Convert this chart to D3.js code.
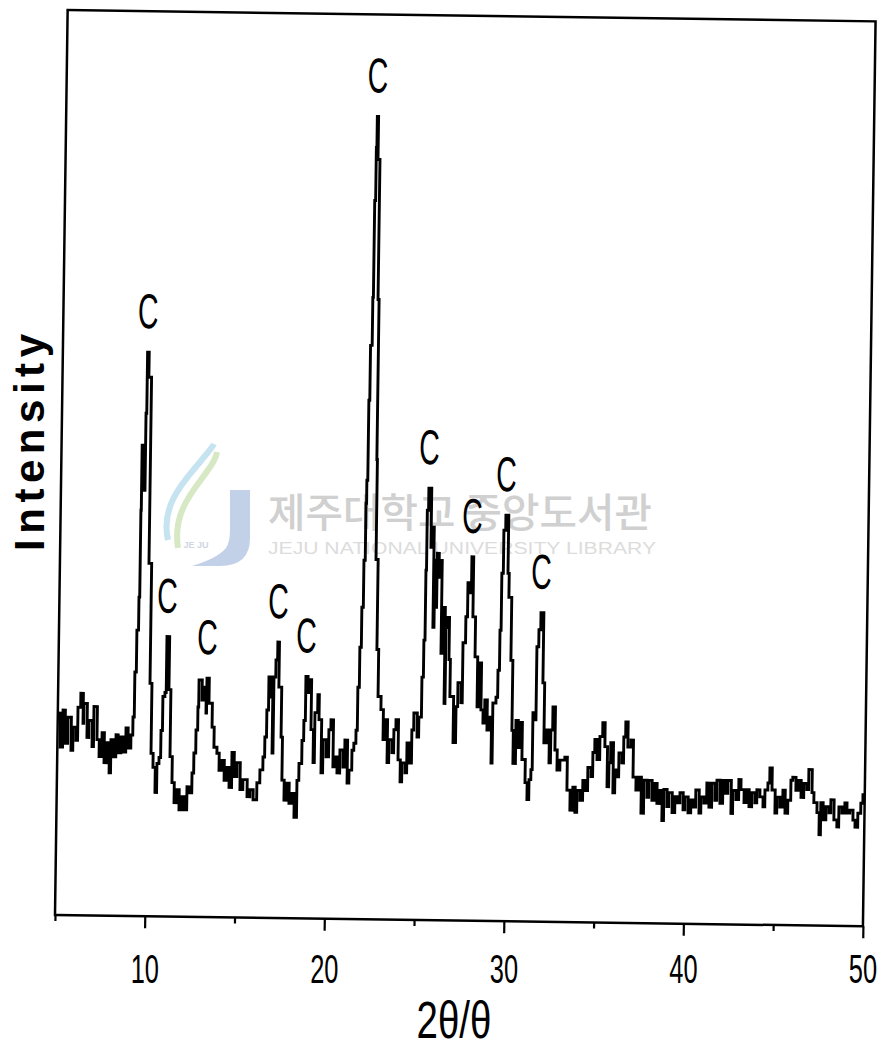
<!DOCTYPE html>
<html>
<head>
<meta charset="utf-8">
<script src="https://cdn.jsdelivr.net/npm/d3@7"></script>
<style>
body { margin: 0; background: #fff; }
</style>
</head>
<body>
<div id="chart"></div>
<script>
// diffraction angle (deg) and intensity (a.u.)
var twoTheta = [
  5.01,5.15,5.29,5.42,5.57,5.76,5.86,6.03,6.12,6.27,
  6.41,6.45,6.64,6.74,6.93,7.01,7.20,7.33,7.48,7.61,
  7.76,7.90,7.98,8.11,8.26,8.38,8.54,8.66,8.81,8.93,
  9.09,9.19,9.26,9.34,9.43,9.47,9.49,9.62,9.68,9.72,
  9.81,9.96,10.11,10.22,10.34,10.47,10.56,10.67,10.76,10.84,
  10.95,11.02,11.17,11.28,11.41,11.54,11.70,11.82,11.98,12.10,
  12.25,12.37,12.52,12.61,12.71,12.80,12.84,13.02,13.12,13.25,
  13.28,13.41,13.60,13.72,13.89,14.02,14.18,14.31,14.46,14.59,
  14.73,14.86,15.02,15.20,15.36,15.60,15.76,15.94,16.14,16.30,
  16.46,16.55,16.64,16.73,16.86,16.96,17.01,17.11,17.20,17.29,
  17.45,17.53,17.66,17.82,17.94,18.10,18.23,18.37,18.47,18.62,
  18.71,18.79,18.91,18.96,19.11,19.25,19.32,19.47,19.55,19.70,
  19.79,19.97,20.11,20.22,20.36,20.47,20.59,20.74,20.92,21.01,
  21.16,21.26,21.41,21.51,21.62,21.69,21.77,21.85,21.93,22.00,
  22.03,22.08,22.13,22.22,22.25,22.30,22.33,22.40,22.51,22.57,
  22.60,22.72,22.82,22.99,23.13,23.22,23.37,23.46,23.64,23.73,
  23.84,23.98,24.11,24.20,24.38,24.47,24.59,24.73,24.83,25.02,
  25.11,25.25,25.33,25.39,25.42,25.49,25.65,25.69,25.82,25.88,
  25.97,26.01,26.12,26.16,26.29,26.36,26.50,26.55,26.60,26.74,
  26.82,27.03,27.17,27.26,27.44,27.51,27.65,27.74,27.86,27.94,
  28.04,28.19,28.34,28.41,28.56,28.68,28.77,28.91,29.01,29.16,
  29.22,29.39,29.48,29.56,29.62,29.70,29.80,29.96,30.03,30.19,
  30.30,30.38,30.52,30.65,30.74,30.88,31.07,31.19,31.29,31.39,
  31.46,31.57,31.63,31.73,31.83,31.99,32.09,32.25,32.39,32.47,
  32.57,32.71,32.84,33.00,33.27,33.41,33.59,33.74,33.87,33.97,
  34.14,34.29,34.41,34.56,34.74,34.83,34.93,35.06,35.21,35.36,
  35.49,35.64,35.73,35.82,35.97,36.07,36.18,36.28,36.45,36.54,
  36.64,36.77,36.94,37.08,37.25,37.41,37.55,37.69,37.87,37.97,
  38.15,38.31,38.43,38.59,38.72,38.81,38.99,39.09,39.28,39.43,
  39.55,39.71,39.89,39.99,40.17,40.32,40.44,40.59,40.78,40.88,
  41.05,41.20,41.33,41.48,41.66,41.76,41.94,42.09,42.21,42.37,
  42.56,42.65,42.83,42.98,43.10,43.28,43.43,43.56,43.71,43.89,
  43.99,44.16,44.34,44.44,44.60,44.70,44.83,45.01,45.11,45.28,
  45.44,45.57,45.72,45.88,45.98,46.16,46.32,46.45,46.60,46.77,
  46.87,47.06,47.17,47.35,47.48,47.56,47.69,47.85,48.02,48.12,
  48.30,48.47,48.57,48.74,48.90,49.02,49.18,49.36,49.48,49.63,49.79,49.90
];
var intensity = [
  202,168,205,172,198,165,188,175,208,222,
  192,212,178,195,169,209,176,159,183,153,
  173,143,176,159,181,163,179,164,188,168,
  181,199,244,286,319,406,471,426,503,564,
  539,353,233,163,149,124,153,159,186,220,
  224,280,227,160,134,114,127,107,120,107,
  130,124,144,164,187,210,237,217,230,204,
  239,214,190,170,164,147,157,137,150,130,
  165,141,155,128,138,121,128,118,135,148,
  161,181,208,241,221,165,241,258,276,231,
  181,138,118,135,115,125,101,138,155,178,
  198,242,226,239,189,156,206,224,199,146,
  179,162,189,199,152,162,146,169,152,179,
  136,149,169,176,189,232,272,312,359,416,
  439,519,574,622,719,772,803,760,620,460,
  360,270,223,210,180,200,157,180,167,190,
  200,160,138,157,147,177,157,190,207,183,
  203,243,280,350,410,432,373,393,293,360,
  313,367,343,360,267,313,217,293,303,261,
  224,178,214,238,218,278,304,338,328,364,
  304,264,214,258,211,198,221,191,204,158,
  218,224,251,291,348,391,406,348,324,261,
  191,158,201,174,199,162,139,122,142,152,
  209,202,275,292,309,239,179,192,159,192,
  215,172,152,162,165,132,112,135,110,132,
  122,142,132,155,146,170,183,163,186,200,
  176,136,160,180,130,153,146,170,160,186,
  201,176,183,146,133,146,110,143,126,143,
  123,140,120,133,103,134,117,131,111,127,
  121,131,114,127,111,124,117,134,111,127,
  121,141,117,141,124,144,121,144,131,144,
  111,134,125,145,135,122,135,118,132,122,
  135,128,118,135,142,157,135,112,128,118,
  135,112,125,145,148,135,145,128,142,136,
  156,133,123,113,91,123,106,119,113,126,
  106,99,119,113,123,113,116,106,99,113,123,133
];

// peaks marked "C" in the original
var peakAngles = [9.72, 11.02, 13.28, 17.20, 18.79, 22.33, 25.49, 27.94, 29.80, 31.83];
var peakLabel = "C";

var majorTicks = [10, 20, 30, 40, 50];
var minorTicks = [5, 15, 25, 35, 45];
var xTitle = "2θ/θ";
var yTitle = "Intensity";

var width = 886;
var height = 1048;
var plotLeft = 55, plotRight = 863, plotTop = 10, plotBottom = 915;
var tilt = 0.8; // scanned page sits slightly askew

var svg = d3.select("#chart").append("svg")
    .attr("width", width)
    .attr("height", height);

var xScale = d3.scaleLinear()
    .domain([5, 50])
    .range([plotLeft, plotRight]);

var yScale = d3.scaleLinear()
    .domain([0, 905])
    .range([plotBottom, plotTop]);

// library watermark, behind everything
var wm = svg.append("g").attr("opacity", 0.9);
wm.append("path")
    .attr("d", "M168,540 C160,505 185,480 200,462 C208,452 212,448 214,444")
    .attr("fill", "none").attr("stroke", "#bfe0ef").attr("stroke-width", 6);
wm.append("path")
    .attr("d", "M178,548 C172,510 196,488 208,470 C214,462 216,458 217,452")
    .attr("fill", "none").attr("stroke", "#d3e6be").attr("stroke-width", 6);
wm.append("path")
    .attr("d", "M230,490 L250,490 L250,538 Q250,566 220,566 L192,566 Q218,558 226,548 Q230,542 230,530 Z")
    .attr("fill", "#bccde6");
wm.append("text")
    .attr("x", 196).attr("y", 548)
    .attr("text-anchor", "middle")
    .style("font-family", "Liberation Sans, sans-serif")
    .style("font-size", "9px")
    .style("font-weight", "bold")
    .attr("fill", "#c9d3df")
    .text("JE JU");
wm.append("text")
    .attr("x", 268).attr("y", 527)
    .attr("textLength", 384)
    .attr("lengthAdjust", "spacingAndGlyphs")
    .style("font-family", "Noto Sans CJK KR, sans-serif")
    .style("font-size", "40px")
    .style("font-weight", "500")
    .attr("fill", "#cbcbcb")
    .text("제주대학교 중앙도서관");
wm.append("text")
    .attr("x", 268).attr("y", 554)
    .attr("textLength", 388)
    .attr("lengthAdjust", "spacingAndGlyphs")
    .style("font-family", "Liberation Sans, sans-serif")
    .style("font-size", "16px")
    .attr("fill", "#d9d9d9")
    .text("JEJU NATIONAL UNIVERSITY LIBRARY");

var plot = svg.append("g")
    .attr("transform", "rotate(" + tilt + "," + plotLeft + "," + plotBottom + ")");

plot.append("rect")
    .attr("x", plotLeft)
    .attr("y", plotTop)
    .attr("width", plotRight - plotLeft)
    .attr("height", plotBottom - plotTop)
    .attr("fill", "none")
    .attr("stroke", "#000")
    .attr("stroke-width", 2.5);

var majorAxis = plot.append("g")
    .attr("transform", "translate(0," + plotBottom + ")")
    .call(d3.axisBottom(xScale).tickValues(majorTicks).tickSize(12).tickFormat(""));
var minorAxis = plot.append("g")
    .attr("transform", "translate(0," + plotBottom + ")")
    .call(d3.axisBottom(xScale).tickValues(minorTicks).tickSize(6).tickFormat(""));
[majorAxis, minorAxis].forEach(function(a){
    a.select(".domain").remove();
    a.selectAll("line").attr("stroke", "#000").attr("stroke-width", 2.2);
});

var points = twoTheta.map(function(t, i){ return [t, intensity[i]]; });

var line = d3.line()
    .x(function(d){ return xScale(d[0]); })
    .y(function(d){ return yScale(d[1]); })
    .curve(d3.curveStepAfter);

plot.append("path")
    .datum(points)
    .attr("d", line)
    .attr("fill", "none")
    .attr("stroke", "#000")
    .attr("stroke-width", 2.9)
    .attr("stroke-linejoin", "miter");

// put a "C" over each marked peak
peakAngles.forEach(function(a){
    var best = null;
    points.forEach(function(p){
        if (Math.abs(p[0] - a) <= 0.15 && (!best || p[1] > best[1])) best = p;
    });
    plot.append("text")
        .attr("transform", "translate(" + xScale(best[0]) + "," + (yScale(best[1]) - 24) + ") scale(0.58,1)")
        .attr("text-anchor", "middle")
        .style("font-family", "Liberation Sans, Arial, sans-serif")
        .style("font-size", "49px")
        .attr("fill", "#000")
        .text(peakLabel);
});

// tick labels and titles stay level like in the scan
majorTicks.forEach(function(v){
    svg.append("text")
        .attr("transform", "translate(" + xScale(v) + ",983) scale(0.62,1)")
        .attr("text-anchor", "middle")
        .style("font-family", "Liberation Sans, Arial, sans-serif")
        .style("font-size", "41px")
        .attr("fill", "#000")
        .text(v);
});

svg.append("text")
    .attr("transform", "translate(454,1038) scale(0.74,1)")
    .attr("text-anchor", "middle")
    .style("font-family", "Liberation Sans, Arial, sans-serif")
    .style("font-size", "52px")
    .attr("fill", "#000")
    .text(xTitle);

svg.append("text")
    .attr("transform", "translate(44,551) rotate(-90)")
    .attr("textLength", 217)
    .attr("lengthAdjust", "spacing")
    .style("font-family", "Liberation Sans, Arial, sans-serif")
    .style("font-size", "42px")
    .style("font-weight", "bold")
    .attr("fill", "#000")
    .text(yTitle);
</script>
</body>
</html>
